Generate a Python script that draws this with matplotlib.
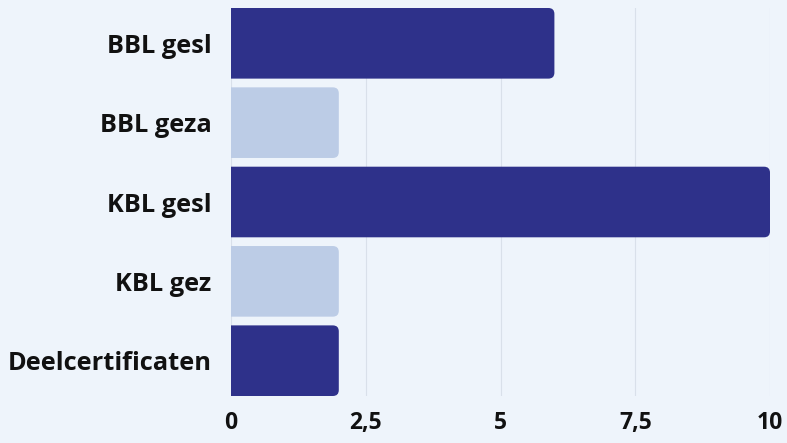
import numpy as np
import matplotlib
matplotlib.use("Agg")
from matplotlib import pyplot as plt
from matplotlib.patches import FancyBboxPatch

categories = ["BBL gesl", "BBL geza", "KBL gesl", "KBL gez", "Deelcertificaten"]
values = [6, 2, 10, 2, 2]
bar_colors = ["#2e318a", "#bccce6", "#2e318a", "#bccce6", "#2e318a"]
xticks = [0, 2.5, 5, 7.5, 10]
xtick_labels = ["0", "2,5", "5", "7,5", "10"]

bg = "#eef4fb"
plt.rcParams['font.family'] = ['Open Sans', 'DejaVu Sans']

fig = plt.figure(figsize=(7.87, 4.43), dpi=100, facecolor=bg)
ax = fig.add_axes([231/787, 1-396/443, 539/787, 388/443], facecolor=bg)

ypos = np.arange(len(categories))
h = 0.89
bars = ax.barh(ypos, values, height=h, color=bar_colors)

ax.set_xlim(0, 10)
ax.set_ylim(len(categories) - 1 + h/2, -h/2)

# swap the flat bars for rounded ones
xpx = 10 / 539
ypx = 1 / 79.5
for b in bars:
    x0, y0, w, hh = b.get_x(), b.get_y(), b.get_width(), b.get_height()
    b.set_visible(False)
    p = FancyBboxPatch((x0 - 0.2, y0), w + 0.2, hh,
                       boxstyle="round,pad=0,rounding_size=%f" % (6 * xpx),
                       mutation_aspect=ypx / xpx,
                       facecolor=b.get_facecolor(), edgecolor="none", zorder=3)
    ax.add_patch(p)

ax.set_xticks(xticks)
ax.set_xticklabels(xtick_labels)
ax.set_yticks(ypos)
ax.set_yticklabels(categories)
ax.grid(axis="x", color="#d9e0ea", linewidth=0.8, zorder=0)
ax.set_axisbelow(True)
for s in ax.spines.values():
    s.set_visible(False)
ax.tick_params(axis="both", length=0)
ax.tick_params(axis="y", pad=14, labelsize=18.3)
ax.tick_params(axis="x", pad=11, labelsize=16.5)
for t in ax.get_xticklabels() + ax.get_yticklabels():
    t.set_fontweight("bold")
    t.set_color("#111111")

fig.savefig("out.png", dpi=100, facecolor=bg)
